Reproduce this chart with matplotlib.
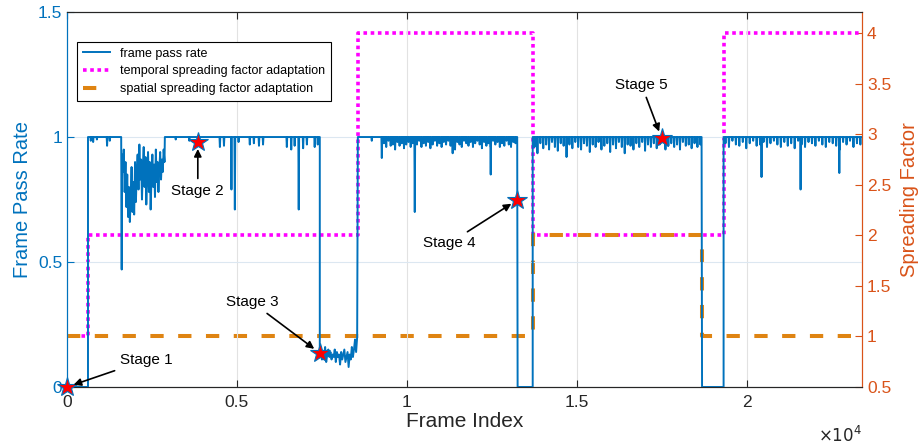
import numpy as np
import matplotlib
matplotlib.use('Agg')
import matplotlib.pyplot as plt
from matplotlib.ticker import FuncFormatter

plt.rcParams['font.family'] = ['Liberation Sans', 'DejaVu Sans']

BLUE = '#0072BD'
ORANGE = '#D95319'
SPATIAL = '#DF8412'
MAGENTA = '#FF00FF'
DARK = '#262626'

# spreading factor schedules (step changes at frame index)
temporal_sf_frames = [0, 618, 8560, 13706, 19324, 23400]
temporal_sf = [1, 2, 4, 2, 4]
spatial_sf_frames = [0, 13706, 18676, 23400]
spatial_sf = [1, 2, 1]

# frame pass rate, piece by piece
b_dip_at = [700, 770, 880, 1180, 1260]
b_dip_to = [0.985, 0.98, 0.99, 0.965, 0.985]
burst_dip = (1610, 0.47)
burst_vals = [0.93, 0.86, 0.95, 0.78, 0.9, 0.72, 0.85, 0.68, 0.8, 0.66,
              0.76, 0.88, 0.7, 0.82, 0.69, 0.9, 0.74, 0.86, 0.93, 0.79,
              0.97, 0.83, 0.91, 0.75, 0.88, 0.96, 0.8, 0.92, 0.73, 0.85,
              0.94, 0.78, 0.9, 0.71, 0.84, 0.93, 0.8, 0.89, 0.76, 0.95,
              0.82, 0.9, 0.78, 0.87, 0.94, 0.83, 0.91, 0.86, 0.95, 0.9]
c_dip_at = [3200, 3600, 4500, 4620, 4840, 4940, 5050, 5380, 5500, 5650,
            5770, 6470, 6600, 6700, 6820, 6950, 7060, 7290, 7380]
c_dip_to = [0.99, 0.985, 0.96, 0.965, 0.79, 0.71, 0.98, 0.97, 0.975, 0.965,
            0.97, 0.96, 0.95, 0.965, 0.71, 0.955, 0.97, 0.96, 0.97]
low_vals = [0.13, 0.15, 0.11, 0.14, 0.12, 0.16, 0.1, 0.13, 0.15, 0.12,
            0.14, 0.11, 0.13, 0.12, 0.15, 0.1, 0.14, 0.12, 0.13, 0.09,
            0.14, 0.11, 0.13, 0.15, 0.1, 0.12, 0.14, 0.08, 0.13, 0.11,
            0.16, 0.12, 0.15, 0.19, 0.14, 0.2]
e_dip_at = [8970, 9265, 10235, 11350, 12470]
e_dip_to = [0.985, 0.916, 0.70, 0.935, 0.85]
e_fuzz1 = [0.975, 0.96, 0.985, 0.965, 0.97, 0.95, 0.98, 0.965, 0.975, 0.955,
           0.97, 0.98, 0.96, 0.975]
e_fuzz2 = [0.97, 0.985, 0.96, 0.975, 0.965, 0.98, 0.955, 0.97, 0.985, 0.965,
           0.975, 0.96, 0.98, 0.97, 0.985, 0.965, 0.975, 0.95, 0.98, 0.97,
           0.96, 0.985, 0.975, 0.965, 0.98, 0.96, 0.975, 0.985, 0.97, 0.955,
           0.98, 0.965, 0.975, 0.96, 0.985, 0.97, 0.98, 0.96, 0.975, 0.965,
           0.985, 0.97, 0.96, 0.98, 0.975]
g_fuzz = [0.96, 0.935, 0.975, 0.955, 0.97, 0.95, 0.98, 0.96, 0.945, 0.975,
          0.965, 0.92, 0.97, 0.955, 0.98, 0.96, 0.95, 0.975, 0.965, 0.94,
          0.97, 0.96, 0.98, 0.95, 0.965, 0.975, 0.94, 0.97, 0.955, 0.98,
          0.96, 0.935, 0.97, 0.965, 0.95, 0.975, 0.96, 0.98, 0.945, 0.97,
          0.96, 0.975, 0.955, 0.97, 0.98, 0.95, 0.965, 0.975, 0.96, 0.97,
          0.95, 0.98, 0.965, 0.97, 0.955, 0.975, 0.96, 0.97]
i_dip_at = [20440, 21590, 22730]
i_dip_to = [0.84, 0.79, 0.856]
i_fuzz = [0.975, 0.96, 0.985, 0.97, 0.965, 0.98, 0.955, 0.975, 0.985, 0.965,
          0.97, 0.98, 0.96, 0.975, 0.985, 0.97, 0.96, 0.98, 0.965, 0.975,
          0.955, 0.985, 0.97, 0.96, 0.98, 0.975, 0.965, 0.985, 0.97, 0.96,
          0.98, 0.975, 0.965, 0.95, 0.98, 0.97, 0.985, 0.96, 0.975, 0.97]

stage_names = ['Stage 1', 'Stage 2', 'Stage 3', 'Stage 4', 'Stage 5']
stage_frames = [0, 3850, 7440, 13250, 17500]
stage_rates = [0.0, 0.98, 0.136, 0.748, 0.996]
stage_text_at = [(2320, 0.108), (3850, 0.784), (5440, 0.34), (11265, 0.576), (16910, 1.208)]


def spiky(start, end, dip_at, dip_to, level=1.0, half=12):
    # flat level with narrow downward spikes
    xs, ys = [start], [level]
    for f, d in sorted(zip(dip_at, dip_to)):
        xs += [f - half, f, f + half]
        ys += [level, d, level]
    xs.append(end)
    ys.append(level)
    return xs, ys


def spread(a, b, vals):
    return list(np.linspace(a, b, len(vals))), list(vals)


pieces = [
    ([0, 618], [0, 0]),
    spiky(618, 1595, b_dip_at, b_dip_to),
    ([burst_dip[0]], [burst_dip[1]]),
    spread(1620, 2870, burst_vals),
    spiky(2880, 7440, c_dip_at, c_dip_to),
    spread(7440, 8540, low_vals),
    spiky(8560, 13250,
          e_dip_at + list(np.linspace(9330, 10180, len(e_fuzz1))) + list(np.linspace(10300, 13200, len(e_fuzz2))),
          e_dip_to + e_fuzz1 + e_fuzz2),
    ([13262, 13706], [0, 0]),
    spiky(13706, 18676, list(np.linspace(13760, 18640, len(g_fuzz))), g_fuzz),
    ([18690, 19324], [0, 0]),
    spiky(19324, 23400,
          i_dip_at + list(np.linspace(19380, 23350, len(i_fuzz))),
          i_dip_to + i_fuzz),
]
frame_idx = np.concatenate([p[0] for p in pieces])
pass_rate = np.concatenate([p[1] for p in pieces])

fig = plt.figure(figsize=(9.24, 4.47), dpi=100)
ax = fig.add_axes([0.0725, 0.1342, 0.8605, 0.8389])
ax2 = ax.twinx()
ax.set_zorder(ax2.get_zorder() + 1)
ax.patch.set_visible(False)

# spreading factors on the right axis
h_t, = ax2.plot(temporal_sf_frames, temporal_sf + [temporal_sf[-1]], drawstyle='steps-post',
                color=MAGENTA, lw=2.6, linestyle=(0, (1, 1)))
h_s, = ax2.plot(spatial_sf_frames, spatial_sf + [spatial_sf[-1]], drawstyle='steps-post',
                color=SPATIAL, lw=2.9, linestyle=(0, (3.3, 3.6)))

# pass rate on the left axis
h_p, = ax.plot(frame_idx, pass_rate, color=BLUE, lw=1.4)
ax.plot(stage_frames, stage_rates, linestyle='none', marker='*', ms=15,
        mfc='red', mec=BLUE, mew=0.8, zorder=5, clip_on=False)

for name, fx, fy, (tx, ty) in zip(stage_names, stage_frames, stage_rates, stage_text_at):
    ax.annotate(name, xy=(fx, fy), xytext=(tx, ty), ha='center', va='center',
                fontsize=11, color='k', zorder=6,
                arrowprops=dict(arrowstyle='-|>', color='k', lw=1.2,
                                mutation_scale=11, shrinkA=2, shrinkB=5))

ax.set_xlim(0, 23400)
ax.set_ylim(0, 1.5)
ax2.set_ylim(0.5, 4.21)
ax.set_xticks([0, 5000, 10000, 15000, 20000])
ax.xaxis.set_major_formatter(FuncFormatter(lambda v, p: f'{v / 1e4:g}'))
ax.set_yticks([0, 0.5, 1, 1.5])
ax.yaxis.set_major_formatter(FuncFormatter(lambda v, p: f'{v:g}'))
ax2.set_yticks(np.arange(0.5, 4.01, 0.5))
ax2.yaxis.set_major_formatter(FuncFormatter(lambda v, p: f'{v:g}'))

ax.xaxis.grid(True, color='#E2E2E2', lw=0.8)
ax.yaxis.grid(True, color='#DCE7F1', lw=0.8)
ax.set_axisbelow(True)

ax.tick_params(axis='x', direction='in', length=5, labelsize=12.5, colors=DARK, top=True, pad=6)
ax.tick_params(axis='y', direction='in', length=5, labelsize=12.5, colors=BLUE)
ax2.tick_params(axis='y', direction='in', length=5, labelsize=12.5, colors=ORANGE)
for a in (ax, ax2):
    a.spines['top'].set_color(DARK)
    a.spines['bottom'].set_color(DARK)
    a.spines['left'].set_color(BLUE)
    a.spines['right'].set_color(ORANGE)

ax.set_xlabel('Frame Index', fontsize=15, color=DARK, labelpad=1)
ax.set_ylabel('Frame Pass Rate', fontsize=14.5, color=BLUE, labelpad=4)
ax2.set_ylabel('Spreading Factor', fontsize=14.5, color=ORANGE, labelpad=6)
ax.text(1.0, -0.128, r'$\times10^{4}$', transform=ax.transAxes, ha='right', va='center',
        fontsize=12, color=DARK)

leg = ax.legend([h_p, h_t, h_s],
                ['frame pass rate', 'temporal spreading factor adaptation',
                 'spatial spreading factor adaptation'],
                loc='upper left', bbox_to_anchor=(0.0126, 0.92), borderaxespad=0,
                fontsize=9, handlelength=2.2, fancybox=False, framealpha=1,
                edgecolor='k', labelspacing=0.45, borderpad=0.45)
leg.get_frame().set_linewidth(0.8)

fig.savefig('out.png', dpi=100)
